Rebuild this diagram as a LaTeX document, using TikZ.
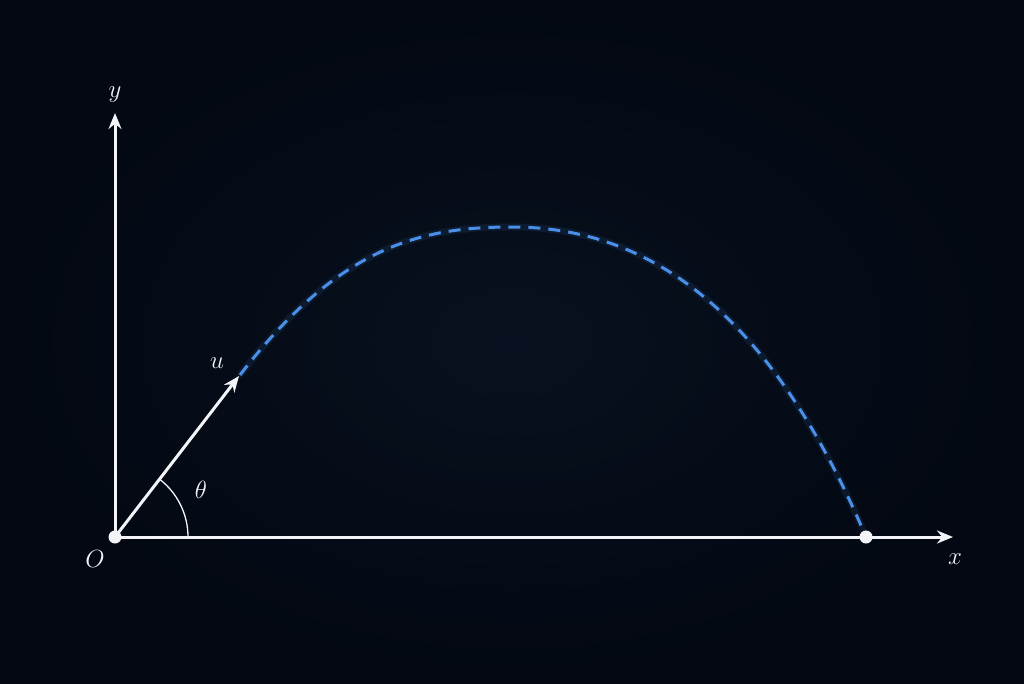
\documentclass[tikz,border=0pt]{standalone}
\usetikzlibrary{arrows.meta}
\definecolor{bgdark}{HTML}{030812}
\definecolor{bgmid}{HTML}{08111F}
\definecolor{trajblue}{HTML}{4A8FE8}
\definecolor{axiswhite}{HTML}{F2F4F8}
\tikzset{
  axisline/.style={draw=axiswhite, line width=3pt, -{Stealth[length=16pt,width=13pt]}},
  vecline/.style={draw=axiswhite, line width=3pt, -{Stealth[length=16pt,width=13pt]}},
  traj/.style={draw=trajblue, line width=3pt, dash pattern=on 12pt off 8pt},
  trajglow/.style={draw=trajblue, line width=7pt, opacity=0.1, line cap=round},
  lab/.style={text=axiswhite, font=\fontsize{27}{30}\selectfont},
  dotpt/.style={circle, fill=axiswhite, minimum size=13pt, inner sep=0pt},
  anglearc/.style={draw=axiswhite, line width=1.3pt}
}
\begin{document}
\begin{tikzpicture}[x=1pt,y=-1pt]
  \useasboundingbox (0,0) rectangle (1024,683);
  \fill[bgdark] (0,0) rectangle (1024,683);
  \fill[inner color=bgmid, outer color=bgdark] (0,0) rectangle (1024,683);
  % points
  \coordinate (O) at (115,537);
  \coordinate (Xend) at (953,537);
  \coordinate (Yend) at (115,113);
  \coordinate (U) at (239,376);
  \coordinate (S) at (240,375);
  \coordinate (P) at (512,227);
  \coordinate (L) at (866,537);
  % trajectory
  \draw[trajglow] (S) .. controls (340,245) and (422,227) .. (P)
                      .. controls (642,227) and (766,302) .. (L);
  \draw[traj] (S) .. controls (340,245) and (422,227) .. (P)
                  .. controls (642,227) and (766,302) .. (L);
  % axes
  \draw[axisline] (O) -- (Xend);
  \draw[axisline] (O) -- (Yend);
  % velocity vector
  \draw[vecline] (O) -- (U);
  % angle arc
  \draw[anglearc] ([shift={(73,0)}]O) arc[start angle=0, end angle=-52.4, radius=73];
  % dots
  \node[dotpt] (odot) at (O) {};
  \node[dotpt] (ldot) at (L) {};
  % labels
  \node[lab] (ylab) at (115,95) {$y$};
  \node[lab] (xlab) at (955,559) {$x$};
  \node[lab] (olab) at (95,559) {$O$};
  \node[lab] (ulab) at (217,363) {$u$};
  \node[lab] (tlab) at (201,490) {$\theta$};
\end{tikzpicture}
\end{document}
